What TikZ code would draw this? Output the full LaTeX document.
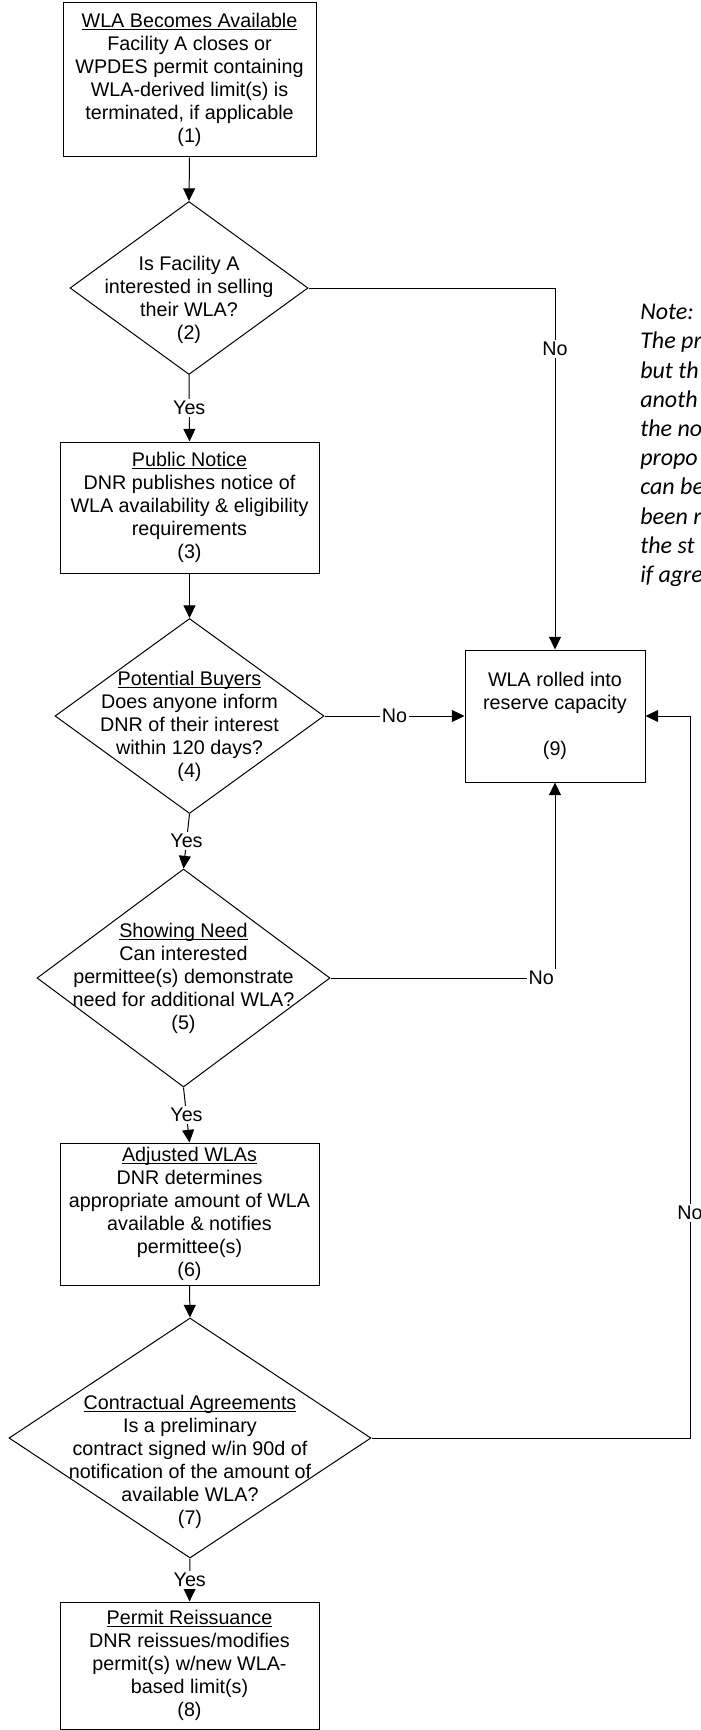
\documentclass[tikz,border=0pt]{standalone}
\usepackage{fontspec}
\setmainfont{Liberation Sans}
\newfontfamily\notefont{Carlito}
\usetikzlibrary{arrows.meta, shapes.geometric}

\newcommand{\flowfont}{\fontsize{14.8pt}{17.25pt}\selectfont}
\newcommand{\steptitle}[1]{\underline{\raisebox{0pt}[\height][0pt]{#1}}}

\begin{document}
\begin{tikzpicture}[
  x=0.75pt, y=-0.75pt,
  box/.style={draw, line width=0.75pt, inner sep=0pt, align=center,
    font=\flowfont},
  dec/.style={draw, diamond, line width=0.75pt, inner sep=0pt},
  dtext/.style={align=center, inner sep=0pt, font=\flowfont},
  arr/.style={-{Triangle[length=9.5pt, width=9pt]}, line width=0.75pt},
  lbl/.style={fill=white, inner sep=1.5pt, font=\flowfont},
  note/.style={align=left, inner sep=0pt,
    font=\notefont\itshape\fontsize{18pt}{21.9pt}\selectfont}
]
  \useasboundingbox (0,0) rectangle (700,1730);

  \node[box, minimum width=189.75pt, minimum height=115.5pt] (avail) at (189.5, 80)
    {\steptitle{WLA Becomes Available}\\Facility A closes or\\WPDES permit containing\\WLA-derived limit(s) is\\terminated, if applicable\\(1)};
  \node[dec, minimum width=178.5pt, minimum height=129.75pt] (sell) at (189, 288) {};
  \node[dtext] (selltxt) at (189, 300)
    {Is Facility A\\interested in selling\\their WLA?\\(2)};
  \node[box, minimum width=194.25pt, minimum height=98.25pt] (notice) at (189.5, 507.5)
    {\steptitle{Public Notice}\\DNR publishes notice of\\WLA availability \& eligibility\\requirements\\(3)};
  \node[dec, minimum width=201.75pt, minimum height=146.25pt] (buyers) at (189.5, 716) {};
  \node[dtext] (buyerstxt) at (189.5, 726)
    {\steptitle{Potential Buyers}\\Does anyone inform\\DNR of their interest\\within 120 days?\\(4)};
  \node[dec, minimum width=219.75pt, minimum height=163.5pt] (need) at (183.5, 978) {};
  \node[dtext] (needtxt) at (183.5, 978)
    {\steptitle{Showing Need}\\Can interested\\permittee(s) demonstrate\\need for additional WLA?\\(5)};
  \node[box, minimum width=194.25pt, minimum height=106.5pt] (adjust) at (189.5, 1214)
    {\steptitle{Adjusted WLAs}\\DNR determines\\appropriate amount of WLA\\available \& notifies\\permittee(s)\\(6)};
  \node[dec, minimum width=271.5pt, minimum height=180pt] (contract) at (190, 1438) {};
  \node[dtext] (contracttxt) at (190, 1461.5)
    {\steptitle{Contractual Agreements}\\Is a preliminary\\contract signed w/in 90d of\\notification of the amount of\\available WLA?\\(7)};
  \node[box, minimum width=194.25pt, minimum height=95.25pt] (reissue) at (189.5, 1665.5)
    {\steptitle{Permit Reissuance}\\DNR reissues/modifies\\permit(s) w/new WLA-\\based limit(s)\\(8)};

  \node[box, minimum width=135pt, minimum height=99pt] (reserve) at (555, 716)
    {WLA rolled into\\reserve capacity\\\mbox{}\\(9)};
  \coordinate (loop) at (690, 716);

  \node[note, anchor=north west] (note) at (640, 304)
    {Note:\\The pr\\but th\\anoth\\the no\\propo\\can be\\been r\\the st\\if agre};

  \draw[arr] (avail.south) -- (sell.north);
  \draw[arr] (sell.south) -- node[lbl] {Yes} (notice.north);
  \draw[arr] (notice.south) -- (buyers.north);
  \draw[arr] (buyers.south) -- node[lbl] {Yes} (need.north);
  \draw[arr] (need.south) -- node[lbl] {Yes} (adjust.north);
  \draw[arr] (adjust.south) -- (contract.north);
  \draw[arr] (contract.south) -- node[lbl] {Yes} (reissue.north);

  \draw[arr] (sell.east) -| node[lbl, pos=0.584] {No} (reserve.north);
  \draw[arr] (buyers.east) -- node[lbl] {No} (reserve.west);
  \draw[arr] (need.east) -| node[lbl, pos=0.5, anchor=east, xshift=1pt] {No} (reserve.south);
  \draw[arr] (contract.east) -| node[lbl, pos=0.656] {No} (loop) -- (reserve.east);
\end{tikzpicture}
\end{document}
